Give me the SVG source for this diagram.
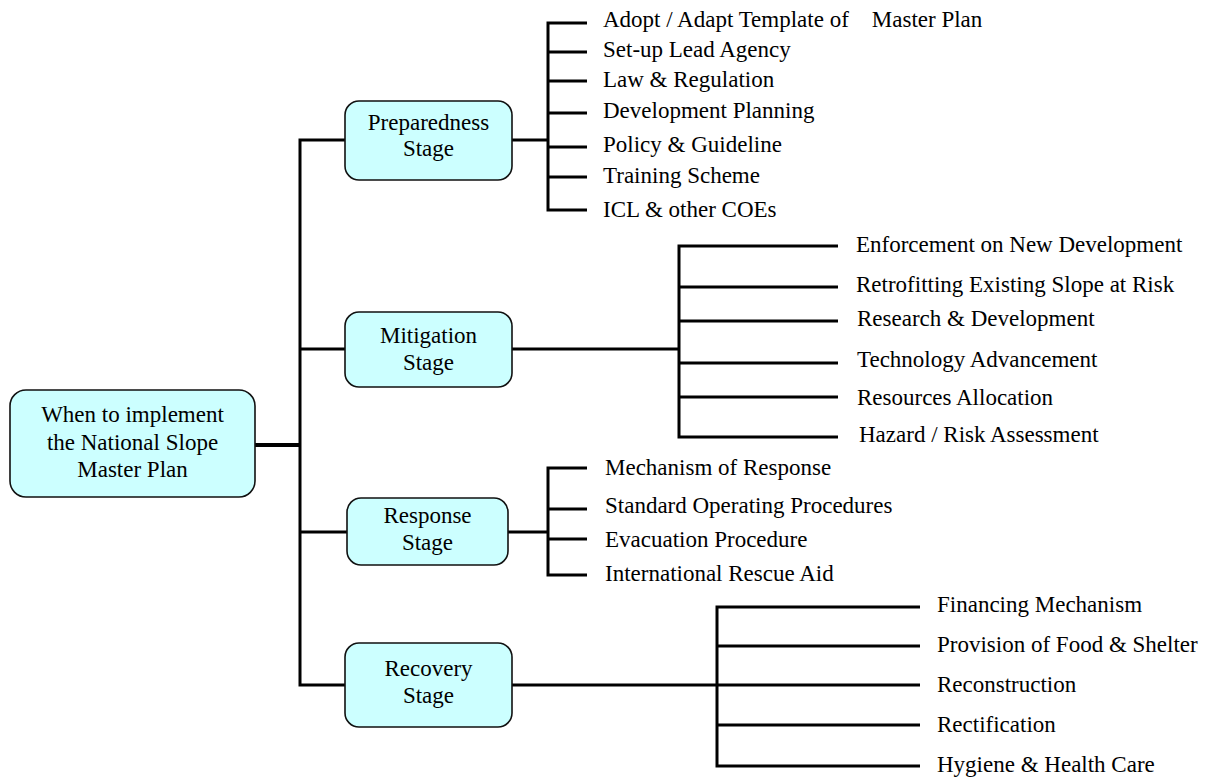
<svg xmlns="http://www.w3.org/2000/svg" width="1210" height="778" viewBox="0 0 1210 778">
<style>
.box{fill:#ccffff;stroke:#111;stroke-width:1.6}
.lbl{font-family:"Liberation Serif","Times New Roman",serif;font-size:23px;fill:#000}
.c{text-anchor:middle}
.ln{fill:none;stroke:#000;stroke-width:3;stroke-linecap:butt;stroke-linejoin:miter}
</style>
<rect width="1210" height="778" fill="#fff"/>
<g id="connectors" class="ln">
<path d="M255,445 H301" stroke-width="4"/>
<path d="M345,140 H300 V685 H345"/>
<path d="M300,349 H345"/>
<path d="M300,532 H347"/>
<path d="M512,140 H548"/>
<path d="M587,23 H548 V210 H587"/>
<path d="M548,52 H587 M548,81 H587 M548,113 H587 M548,147 H587 M548,177 H587"/>
<path d="M512,349 H679"/>
<path d="M838,246 H679 V437 H838"/>
<path d="M679,287 H838 M679,321 H838 M679,363 H838 M679,397 H838"/>
<path d="M508,532 H548"/>
<path d="M587,468 H548 V575 H587"/>
<path d="M548,509 H587 M548,539 H587"/>
<path d="M512,685 H717"/>
<path d="M920,607 H717 V766 H920"/>
<path d="M717,646 H920 M717,685 H920 M717,725 H920"/>
</g>
<g id="root">
<rect class="box" x="10" y="390" width="245" height="107" rx="16"/>
<text class="lbl c" x="132.5" y="422">When to implement</text>
<text class="lbl c" x="132.5" y="450">the National Slope</text>
<text class="lbl c" x="132.5" y="477">Master Plan</text>
</g>
<g id="preparedness">
<rect class="box" x="345" y="101" width="167" height="79" rx="14"/>
<text class="lbl c" x="428.5" y="130">Preparedness</text>
<text class="lbl c" x="428.5" y="156">Stage</text>
</g>
<g id="mitigation">
<rect class="box" x="345" y="312" width="167" height="75" rx="14"/>
<text class="lbl c" x="428.5" y="343">Mitigation</text>
<text class="lbl c" x="428.5" y="370">Stage</text>
</g>
<g id="response">
<rect class="box" x="347" y="498" width="161" height="67" rx="14"/>
<text class="lbl c" x="427.5" y="523">Response</text>
<text class="lbl c" x="427.5" y="550">Stage</text>
</g>
<g id="recovery">
<rect class="box" x="345" y="643" width="167" height="84" rx="14"/>
<text class="lbl c" x="428.5" y="676">Recovery</text>
<text class="lbl c" x="428.5" y="703">Stage</text>
</g>
<g id="prep-items">
<text class="lbl" x="603" y="27" xml:space="preserve">Adopt / Adapt Template of    Master Plan</text>
<text class="lbl" x="603" y="57">Set-up Lead Agency</text>
<text class="lbl" x="603" y="87">Law &amp; Regulation</text>
<text class="lbl" x="603" y="118">Development Planning</text>
<text class="lbl" x="603" y="152">Policy &amp; Guideline</text>
<text class="lbl" x="603" y="183">Training Scheme</text>
<text class="lbl" x="603" y="217">ICL &amp; other COEs</text>
</g>
<g id="mit-items">
<text class="lbl" x="856" y="252">Enforcement on New Development</text>
<text class="lbl" x="856" y="292">Retrofitting Existing Slope at Risk</text>
<text class="lbl" x="857" y="326">Research &amp; Development</text>
<text class="lbl" x="857" y="367">Technology Advancement</text>
<text class="lbl" x="857" y="405">Resources Allocation</text>
<text class="lbl" x="859" y="442">Hazard / Risk Assessment</text>
</g>
<g id="resp-items">
<text class="lbl" x="605" y="475">Mechanism of Response</text>
<text class="lbl" x="605" y="513">Standard Operating Procedures</text>
<text class="lbl" x="605" y="547">Evacuation Procedure</text>
<text class="lbl" x="605" y="581">International Rescue Aid</text>
</g>
<g id="rec-items">
<text class="lbl" x="937" y="612">Financing Mechanism</text>
<text class="lbl" x="937" y="652">Provision of Food &amp; Shelter</text>
<text class="lbl" x="937" y="692">Reconstruction</text>
<text class="lbl" x="937" y="732">Rectification</text>
<text class="lbl" x="937" y="772">Hygiene &amp; Health Care</text>
</g>
</svg>
